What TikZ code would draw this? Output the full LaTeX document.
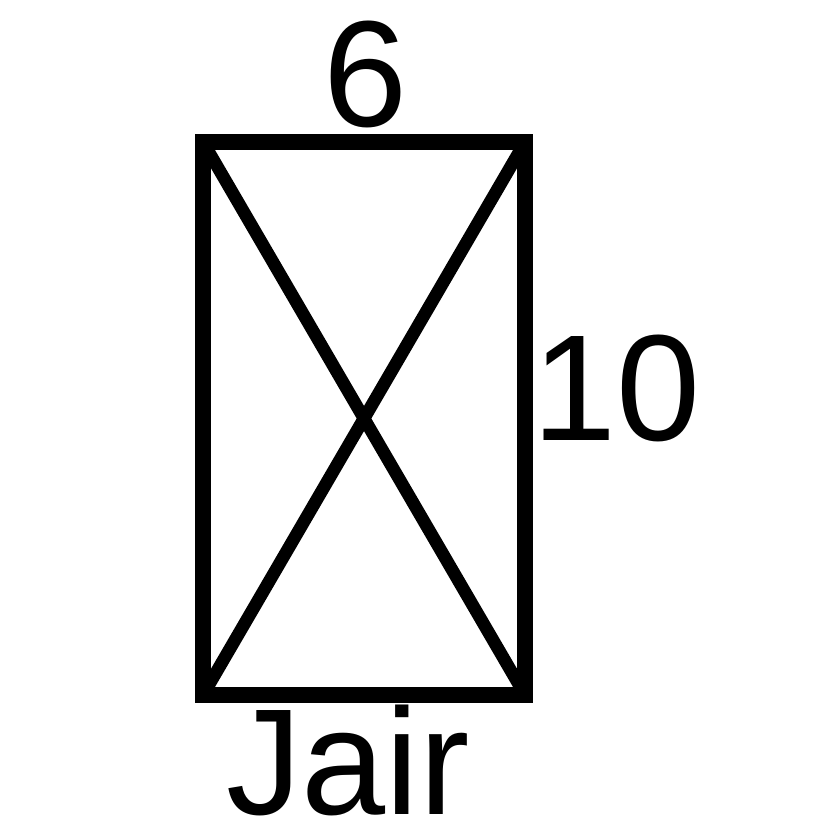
\documentclass[tikz,border=0pt]{standalone}
\usepackage{fontspec}
\setmainfont{Liberation Sans}
\begin{document}
\begin{tikzpicture}[frame/.style={line width=4.3pt}, cross/.style={line width=3.6pt}, lbl/.style={inner sep=0pt, font=\fontsize{43}{50}\selectfont}]

  % Page
  \useasboundingbox (0,0) rectangle (8.21,8.38);

  % Corners
  \coordinate (TL) at (2.03,6.96);
  \coordinate (TR) at (5.25,6.96);
  \coordinate (BR) at (5.25,1.43);
  \coordinate (BL) at (2.03,1.43);

  % Rectangle
  \draw[frame] (TL) -- (TR) -- (BR) -- (BL) -- cycle;

  % Diagonals
  \draw[cross] (TL) -- (BR);
  \draw[cross] (TR) -- (BL);

  % Labels
  \node[lbl] (top) at (3.66,7.64) {6};
  \node[lbl] (side) at (6.17,4.50) {10};
  \node[lbl] (name) at (3.48,0.78) {Jair};

\end{tikzpicture}
\end{document}
